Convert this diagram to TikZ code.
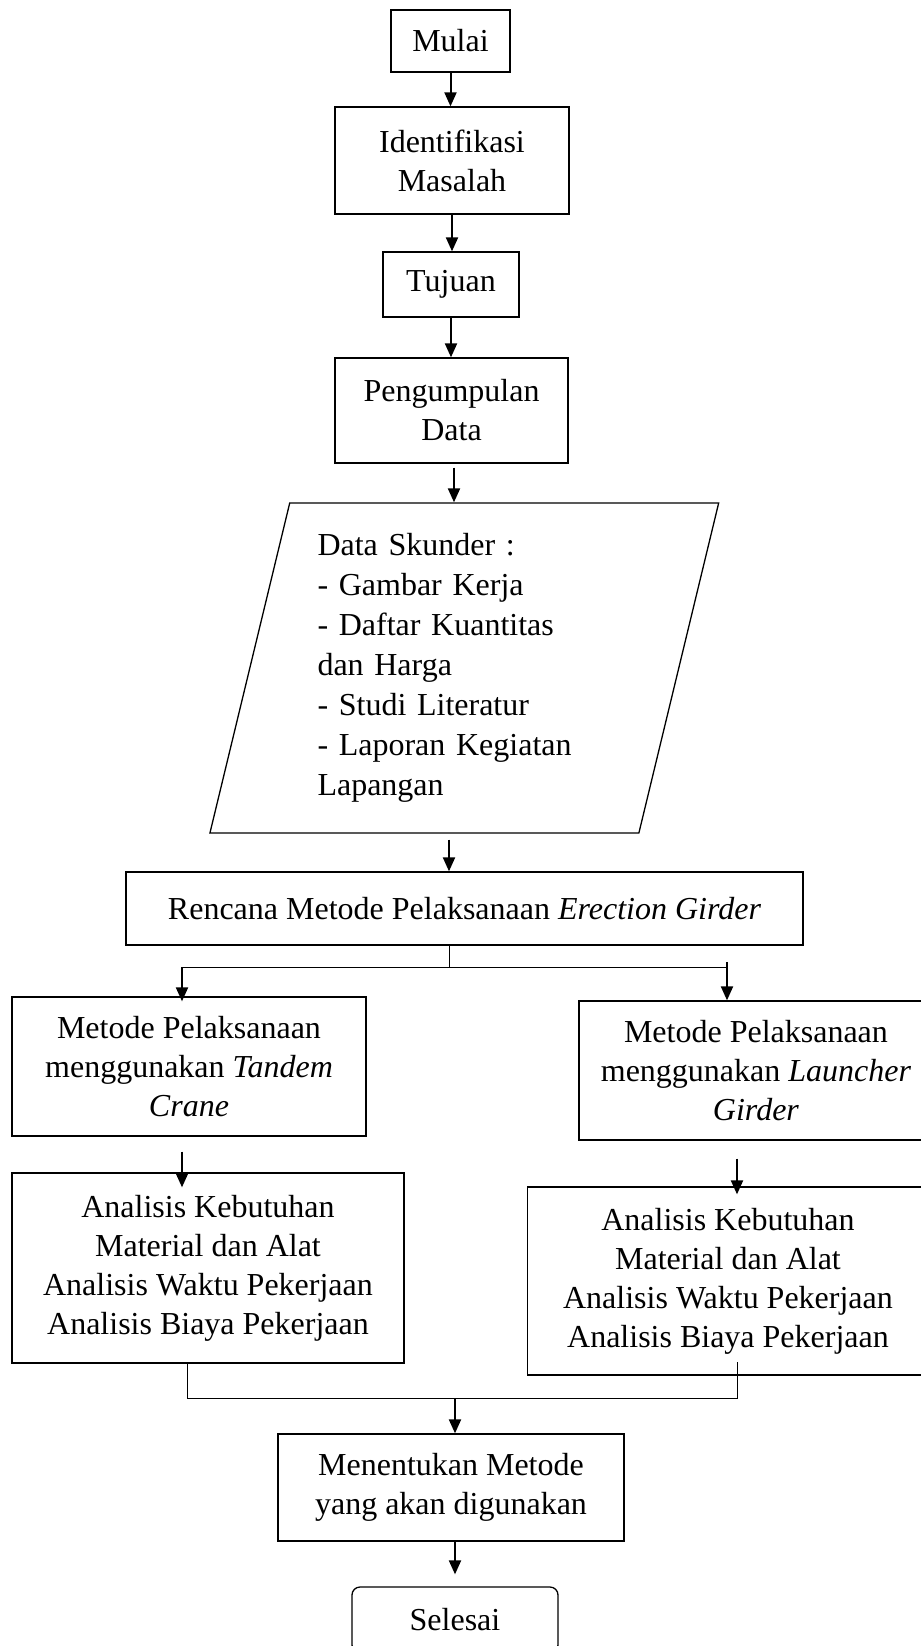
\documentclass[tikz,border=0pt]{standalone}
\usepackage{fontspec}
\setmainfont{Liberation Serif}
\usetikzlibrary{arrows.meta, shapes.geometric}

\begin{document}
\begin{tikzpicture}[x=0.5pt, y=-0.5pt,
  font=\fontsize{16}{19.5}\selectfont,
  box/.style={draw, line width=0.65pt, inner sep=0pt, align=center},
  arr/.style={-{Triangle[length=7pt, width=6pt]}, line width=1pt},
  link/.style={line width=0.45pt}]

  \useasboundingbox (0,0) rectangle (921,1646);

  % main column
  \node[box, minimum width=59.5pt, minimum height=31pt] (start) at (450.5,41) {Mulai};
  \node[box, minimum width=117pt, minimum height=53.5pt] (ident) at (452,160.5)
    {Identifikasi\\ Masalah};
  \node[box, minimum width=68pt, minimum height=32.5pt] (tujuan) at (451,284.5) {Tujuan};
  \node[box, minimum width=116.5pt, minimum height=52.5pt] (kumpul) at (451.5,410.5)
    {Pengumpulan\\ Data};
  \node[box, trapezium, trapezium left angle=76, trapezium right angle=104,
    trapezium stretches=true, minimum width=254.7pt, minimum height=165pt,
    text width=146.8pt, align=left, font=\fontsize{16}{20}\selectfont] (data) at (464.3,668)
    {Data Skunder :\\ - Gambar Kerja\\ - Daftar Kuantitas\\ dan Harga\\
     - Studi Literatur\\ - Laporan Kegiatan\\ Lapangan};
  \node[box, minimum width=338.5pt, minimum height=36.5pt] (rencana) at (464.5,908.5)
    {Rencana Metode Pelaksanaan \textit{Erection Girder}};

  % two methods
  \node[box, minimum width=177pt, minimum height=69.5pt] (tandem) at (189,1066.5)
    {Metode Pelaksanaan\\ menggunakan \textit{Tandem}\\ \textit{Crane}};
  \node[box, minimum width=177pt, minimum height=69.5pt] (launcher) at (756,1070.5)
    {Metode Pelaksanaan\\ menggunakan \textit{Launcher}\\ \textit{Girder}};
  \node[box, minimum width=196pt, minimum height=95pt] (anL) at (208,1268)
    {Analisis Kebutuhan\\ Material dan Alat\\ Analisis Waktu Pekerjaan\\ Analisis Biaya Pekerjaan};
  \node[box, minimum width=200.5pt, minimum height=94pt] (anR) at (728,1281)
    {Analisis Kebutuhan\\ Material dan Alat\\ Analisis Waktu Pekerjaan\\ Analisis Biaya Pekerjaan};

  % end
  \node[box, minimum width=173pt, minimum height=53.5pt] (tentukan) at (451,1487.5)
    {Menentukan Metode\\ yang akan digunakan};
  \node[box, rounded corners=4pt, minimum width=103pt, minimum height=33pt] (selesai)
    at (455,1620) {Selesai};

  \coordinate (fork) at (449,967);
  \coordinate (forkL) at (182,967);
  \coordinate (forkR) at (727,967);
  \coordinate (joinL) at (187,1398);
  \coordinate (joinR) at (737,1398);
  \coordinate (join) at (455,1398);

  % arrows
  \draw[arr] (start.south) -- (start.south |- ident.north);
  \draw[arr] (ident.south) -- (ident.south |- tujuan.north);
  \draw[arr] (tujuan.south) -- (tujuan.south |- kumpul.north);
  \draw[arr] ([xshift=1.25pt,yshift=-2pt]kumpul.south) -- ([xshift=1.25pt]kumpul.south |- data.north);
  \draw[arr] ([yshift=-3pt]data.south -| fork) -- (fork |- rencana.north);

  \draw[link] (rencana.south -| fork) -- (fork);
  \draw[link] (forkL) -- (forkR);
  \draw[arr] (forkL) -- ([yshift=-2.5pt]forkL |- tandem.north);
  \draw[arr] ([yshift=2.5pt]forkR) -- (forkR |- launcher.north);
  \draw[arr] ([yshift=-7.5pt]tandem.south -| forkL) -- ([yshift=-7.5pt]forkL |- anL.north);
  \draw[arr] ([yshift=-9pt]launcher.south -| joinR) -- ([yshift=-4pt]joinR |- anR.north);

  \draw[link] (anL.south -| joinL) -- (joinL) -- (joinR) -- ([yshift=7pt]anR.south -| joinR);
  \draw[arr] (join) -- (join |- tentukan.north);
  \draw[arr] (selesai.north |- tentukan.south) -- ([yshift=6pt]selesai.north);
\end{tikzpicture}
\end{document}
